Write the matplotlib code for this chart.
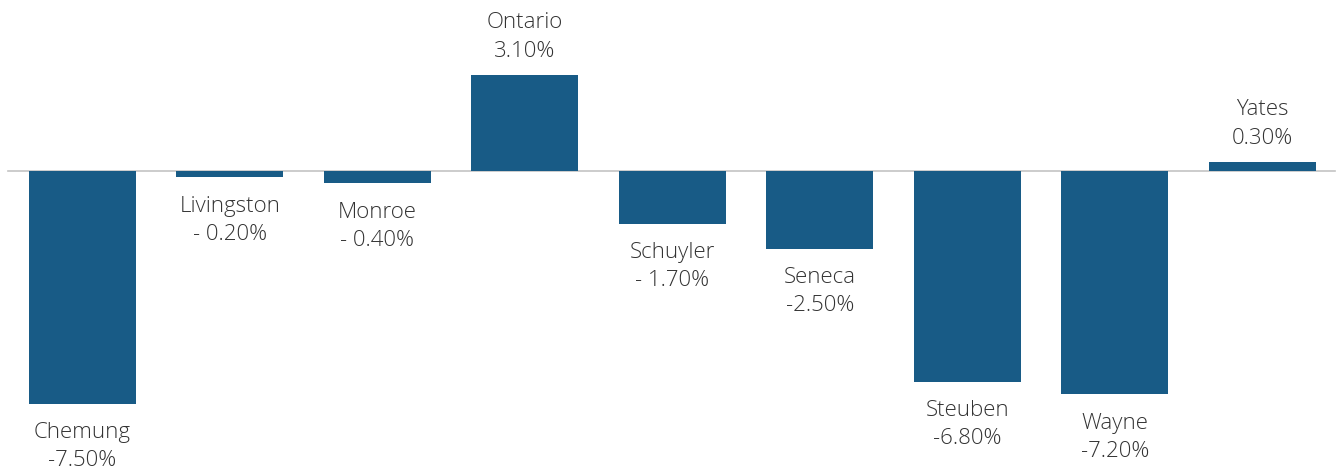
import matplotlib.pyplot as plt

counties = ["Chemung", "Livingston", "Monroe", "Ontario", "Schuyler",
            "Seneca", "Steuben", "Wayne", "Yates"]
change = [-7.5, -0.2, -0.4, 3.1, -1.7, -2.5, -6.8, -7.2, 0.3]
value_labels = ["-7.50%", "- 0.20%", "- 0.40%", "3.10%", "- 1.70%",
                "-2.50%", "-6.80%", "-7.20%", "0.30%"]

bar_color = "#185b86"
text_color = "#333333"

plt.rcParams["font.family"] = ["Open Sans", "DejaVu Sans"]

fig = plt.figure(figsize=(13.43, 4.7), dpi=100)
ax = fig.add_axes([0, 0, 1, 1])

x = range(len(counties))
ax.bar(x, change, width=0.725, color=bar_color, zorder=2)
ax.plot([-0.505, 8.49], [0, 0], color="#c4c4c4", lw=1.2, zorder=1)

for i, (name, v, lab) in enumerate(zip(counties, change, value_labels)):
    if v < 0:
        name_off, val_off = -29 * 0.72, -57 * 0.72
    else:
        name_off, val_off = 52 * 0.72, 23 * 0.72
    ax.annotate(name, (i, v), xytext=(0, name_off), textcoords="offset points",
                ha="center", va="center", fontsize=16, color=text_color,
                fontweight="light")
    ax.annotate(lab, (i, v), xytext=(0, val_off), textcoords="offset points",
                ha="center", va="center", fontsize=16, color=text_color,
                fontweight="light")

ax.set_xlim(-0.559, 8.546)
ax.set_ylim(-9.645, 5.516)
ax.axis("off")

fig.savefig("out.png", dpi=100)
